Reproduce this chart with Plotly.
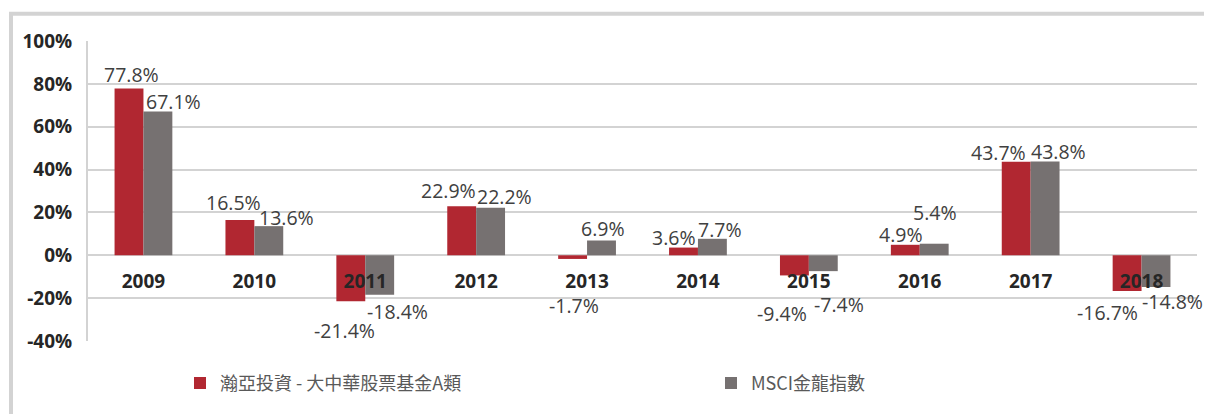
import plotly.graph_objects as go

# ---- data ----
years = ["2009", "2010", "2011", "2012", "2013", "2014", "2015", "2016", "2017", "2018"]
fund_name = "瀚亞投資 - 大中華股票基金A類"
index_name = "MSCI金龍指數"
fund_returns = [77.8, 16.5, -21.4, 22.9, -1.7, 3.6, -9.4, 4.9, 43.7, -16.7]
index_returns = [67.1, 13.6, -18.4, 22.2, 6.9, 7.7, -7.4, 5.4, 43.8, -14.8]
y_ticks = [-40, -20, 0, 20, 40, 60, 80, 100]
y_tick_labels = ["-40%", "-20%", "0%", "20%", "40%", "60%", "80%", "100%"]

# ---- style ----
RED = "#B12731"
GREY = "#767171"
GRID = "#D3D3D3"
PAGE_OFF = 8                      # default page body margin around the figure
W, H = 1212 - PAGE_OFF, 414 - PAGE_OFF
PLOT_L, PLOT_R, PLOT_T, PLOT_B = 88, 1197, 41, 345   # page pixels of plot area
ML = PLOT_L - PAGE_OFF
MT = PLOT_T - PAGE_OFF
MR = W - (PLOT_R - PAGE_OFF)
MB = H - (PLOT_B - PAGE_OFF)
BARGAP = 0.479
LABEL_BASE_DY = -2.5
# label pixel nudges (dx, dy) relative to each bar's end, as placed in the source chart
fund_label_nudge = [(2, 17), (-6, 20), (-6, -27), (-13, 18), (1, -44),
                    (-10, 13), (-12, -36), (-4, 13), (-18, 12), (-20, -19)]
index_label_nudge = [(16, 13), (18, 11), (18, -14), (14, 14), (2, 15),
                     (8, 12), (16, -31), (1, 34), (13, 12), (17, -12)]

plot_w = W - ML - MR
plot_h = H - MT - MB
cat_px = plot_w / len(years)
bar_off = cat_px * (1 - BARGAP) / 4


def px_to_paper_x(px):          # page px -> paper fraction
    return (px - PAGE_OFF - ML) / plot_w


def px_to_paper_y(py):
    return (H - MB - (py - PAGE_OFF)) / plot_h


fig = go.Figure()
fig.add_trace(go.Bar(x=years, y=fund_returns, name=fund_name, legend="legend",
                     marker=dict(color=RED, line=dict(width=0))))
fig.add_trace(go.Bar(x=years, y=index_returns, name=index_name, legend="legend2",
                     marker=dict(color=GREY, line=dict(width=0))))

annotations = []
for series, sign, nudges in ((fund_returns, -1, fund_label_nudge),
                             (index_returns, 1, index_label_nudge)):
    for i, (v, (dx, dy)) in enumerate(zip(series, nudges)):
        annotations.append(dict(
            x=i, y=v, xref="x", yref="y", text=f"{v:.1f}%", showarrow=False,
            xanchor="center", yanchor="middle",
            xshift=sign * bar_off + dx, yshift=dy + LABEL_BASE_DY,
            font=dict(family="Open Sans", size=19.5, color="#404040")))

ymin, ymax = y_ticks[0], y_ticks[-1]
zero_pos = (0 - ymin) / (ymax - ymin)

shapes = [
    dict(type="line", xref="paper", yref="paper",
         x0=px_to_paper_x(9), x1=px_to_paper_x(1220),
         y0=px_to_paper_y(13.5), y1=px_to_paper_y(13.5),
         line=dict(color=GRID, width=4), layer="below"),
    dict(type="line", xref="paper", yref="paper",
         x0=px_to_paper_x(11), x1=px_to_paper_x(11),
         y0=px_to_paper_y(11.5), y1=px_to_paper_y(420),
         line=dict(color=GRID, width=4), layer="below"),
]

legend_font = dict(family="Noto Sans CJK TC", size=18, color="#595959")
fig.update_layout(
    width=W, height=H,
    margin=dict(l=ML, r=MR, t=MT, b=MB, pad=0),
    paper_bgcolor="white", plot_bgcolor="white",
    barmode="group", bargap=BARGAP, bargroupgap=0,
    annotations=annotations, shapes=shapes,
    showlegend=True,
    legend=dict(orientation="h", x=px_to_paper_x(180), y=px_to_paper_y(369),
                xanchor="left", yanchor="top", font=legend_font,
                bgcolor="rgba(0,0,0,0)"),
    legend2=dict(orientation="h", x=px_to_paper_x(711), y=px_to_paper_y(369),
                 xanchor="left", yanchor="top", font=legend_font,
                 bgcolor="rgba(0,0,0,0)"),
    xaxis=dict(type="category", anchor="free", position=zero_pos,
               range=[-0.5, len(years) - 0.5],
               showline=False, showgrid=False, zeroline=False, ticks="",
               ticklabelstandoff=13,
               tickfont=dict(family="Open Sans", size=19, color="#262626", weight="bold")),
    yaxis=dict(range=[ymin, ymax], tickmode="array", tickvals=y_ticks,
               ticktext=y_tick_labels,
               showgrid=True, gridcolor=GRID, gridwidth=2,
               zeroline=True, zerolinecolor=GRID, zerolinewidth=2,
               showline=True, linecolor=GRID, linewidth=2,
               ticks="", ticklabelstandoff=10,
               tickfont=dict(family="Open Sans", size=19, color="#262626", weight="bold")),
)

fig.write_html("out.html")
